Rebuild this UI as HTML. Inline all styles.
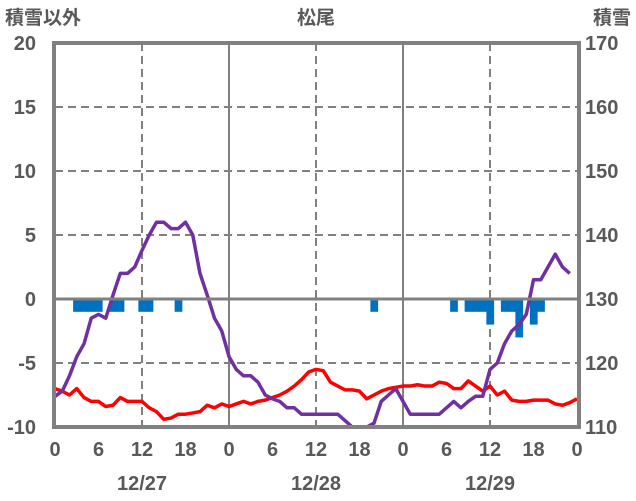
<!DOCTYPE html>
<html><head><meta charset="utf-8"><style>
html,body{margin:0;padding:0;background:#fff}
svg{display:block;font-family:"Liberation Sans","Noto Sans CJK JP",sans-serif}
text{font-weight:bold}
</style></head><body>
<svg id="chart" width="636" height="501" viewBox="0 0 636 501">
<g id="grid"></g>
<g id="bars"></g>
<g id="lines"></g>
<g id="axes"></g>
<text x="5" y="24" font-size="19" fill="#595959">積雪以外</text>
<text x="316" y="24" font-size="19" fill="#595959" text-anchor="middle">松尾</text>
<text x="631" y="24" font-size="19" fill="#595959" text-anchor="end">積雪</text>
</svg>
<script>
const hours=[];for(let i=0;i<=72;i++)hours.push(i);
const temp=[-7,-7.2,-7.5,-7,-7.7,-8,-8,-8.4,-8.3,-7.7,-8,-8,-8,-8.5,-8.8,-9.4,-9.3,-9,-9,-8.9,-8.8,-8.3,-8.5,-8.2,-8.4,-8.2,-8,-8.2,-8,-7.9,-7.7,-7.5,-7.2,-6.8,-6.3,-5.7,-5.5,-5.6,-6.5,-6.8,-7.1,-7.1,-7.2,-7.8,-7.5,-7.2,-7,-6.9,-6.8,-6.8,-6.7,-6.8,-6.8,-6.5,-6.6,-7,-7,-6.4,-6.8,-7.2,-6.8,-7.5,-7.2,-7.9,-8,-8,-7.9,-7.9,-7.9,-8.2,-8.3,-8.1,-7.8];
const snow=[114.8,115.6,118,121,123,127,127.6,127,130.6,134,134,135,137.6,140,142,142,141,141,142,140,134,130.6,127,125,121,119,118,118,117,115,114.4,114,113,113,112,112,112,112,112,112,111,110,110,110,110.6,114,115,116,114,112,112,112,112,112,113,114,113,114,114.8,114.8,119,120,123,125,126,127.6,133,133,135,137,135,134,134];
const precipHours=[3,4,5,6,8,9,12,13,17,44,55,57,58,59,60,62,63,64,66,67];
const precipVals=[-1,-1,-1,-1,-1,-1,-1,-1,-1,-1,-1,-1,-1,-1,-2,-1,-1,-3,-2,-1];
const leftTicks=[20,15,10,5,0,-5,-10];
const rightTicks=[170,160,150,140,130,120,110];
const xTicks=[0,6,12,18,0,6,12,18,0,6,12,18,0];
const dayLabels=['12/27','12/28','12/29'];
const L=55,R=577,T=43,B=427;
const X=h=>L+(R-L)*h/72;
const Y=v=>B-(v+10)*(B-T)/30;
const YR=v=>B-(v-110)*(B-T)/60;
const NS='http://www.w3.org/2000/svg';
function mk(p,tag,a){const e=document.createElementNS(NS,tag);for(const k in a)e.setAttribute(k,a[k]);p.appendChild(e);return e;}
const grid=document.getElementById('grid'),axes=document.getElementById('axes');
leftTicks.forEach((v,i)=>{
 if(v!==20&&v!==-10&&v!==0){const l=mk(grid,'line',{x1:L,x2:R,y1:Y(v),y2:Y(v),stroke:'#808080','stroke-width':2,'stroke-dasharray':'8,5'});
 
 }
 const t=mk(axes,'text',{x:36,y:Y(v)+7,'font-size':20,fill:'#595959','text-anchor':'end'});t.textContent=v;
 
 
 const t2=mk(axes,'text',{x:585,y:YR(rightTicks[i])+7,'font-size':20,fill:'#595959'});t2.textContent=rightTicks[i];
 
 
});
[12,24,36,48,60].forEach(h=>{
 const solid=h%24===0;
 const l=mk(grid,'line',{x1:X(h),x2:X(h),y1:T,y2:B,stroke:'#808080','stroke-width':2});
 if(!solid)l.setAttribute('stroke-dasharray','8,5');
 
 
});
xTicks.forEach((v,i)=>{const t=mk(axes,'text',{x:X(i*6),y:456,'font-size':20,fill:'#595959','text-anchor':'middle'});t.textContent=v;
 
 });
dayLabels.forEach((d,i)=>{const t=mk(axes,'text',{x:X(12+24*i),y:490,'font-size':20,fill:'#595959','text-anchor':'middle'});t.textContent=d;
 
 });
const bars=document.getElementById('bars');
precipHours.forEach((h,i)=>{const y0=Y(0),y1=Y(precipVals[i]);
 const r=mk(bars,'rect',{x:X(h-0.5),y:y0,width:X(1)-X(0)+0.5,height:y1-y0,fill:'#0070C0'});
 
 });
const zl=mk(axes,'line',{x1:L,x2:R,y1:Y(0),y2:Y(0),stroke:'#808080','stroke-width':3});


const lines=document.getElementById('lines');
const tp=mk(lines,'polyline',{points:temp.map((v,i)=>X(hours[i])+','+Y(v)).join(' '),fill:'none',stroke:'#FF0000','stroke-width':3.5,'stroke-linejoin':'round'});


const sp=mk(lines,'polyline',{points:snow.slice(0,72).map((v,i)=>X(hours[i])+','+YR(v)).join(' '),fill:'none',stroke:'#7030A0','stroke-width':3.5,'stroke-linejoin':'round'});


const fr=mk(axes,'rect',{x:L-1,y:T,width:R-L+3,height:B-T,fill:'none',stroke:'#808080','stroke-width':4});


</script>
</body></html>
